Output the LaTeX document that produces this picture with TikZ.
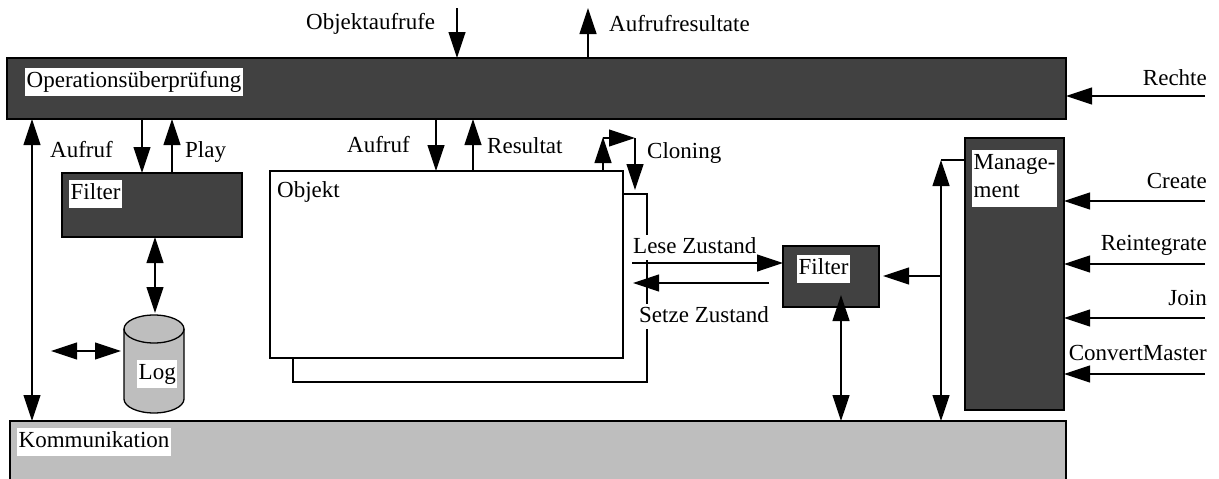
\documentclass[tikz,border=0pt]{standalone}
\usepackage{fontspec}
\setmainfont{Liberation Serif}
\usetikzlibrary{arrows.meta}
\definecolor{darkfill}{HTML}{414141}
\definecolor{lightfill}{HTML}{BEBEBE}
\begin{document}
\begin{tikzpicture}[x=1pt,y=-1pt,
  every node/.style={font=\fontsize{23}{28}\selectfont},
  box/.style={draw=black,line width=1.3pt,inner sep=0pt,outer sep=0pt,anchor=north west},
  darkbox/.style={box,fill=darkfill},
  lightbox/.style={box,fill=lightfill},
  whitebox/.style={box,fill=white},
  tag/.style={fill=white,inner xsep=1.5pt,inner ysep=3.5pt,text height=16pt,text depth=5pt,anchor=north west},
  lbl/.style={inner sep=0pt,anchor=base west},
  rlbl/.style={inner sep=0pt,anchor=base east},
  wlbl/.style={fill=white,inner xsep=1pt,inner ysep=2pt,text height=16pt,text depth=5pt,anchor=base west},
  head/.tip={Triangle[length=26pt,width=17pt]},
  arr/.style={line width=1.2pt,-head},
  darr/.style={line width=1.2pt,head-head},
  conn/.style={line width=1.2pt}]
\useasboundingbox (0,0) rectangle (1219,479);
\clip (0,0) rectangle (1219,479);

% x positions of the vertical connectors
\foreach \n/\x in {xcomm/32,xcall/142,xplay/172,xlog/155,xobjin/457,xobjout/588,
  xaufr/436,xres/473,xclup/603,xcldn/635,xfilt/841,xmgmt/941}
  \coordinate (\n) at (\x,0);
% y positions of the horizontal connectors
\foreach \n/\y in {yrechte/96,ycreate/201,yreint/264,yjoin/318,yconv/374,
  ylese/263,ysetze/283,ymgmt/160,yfilt/276,ylog/351,yclone/138}
  \coordinate (\n) at (0,\y);

% main layers
\node[darkbox,minimum width=1059,minimum height=61] (ops) at (7,58) {};
\node[lightbox,minimum width=1056,minimum height=80] (komm) at (10,421) {};
\node[tag] at (25,68) {Operationsüberprüfung};
\node[tag] at (17,428) {Kommunikation};

% left filter
\node[darkbox,minimum width=180,minimum height=64] (filtL) at (62,173) {};
\node[tag] at (69,180) {Filter};

% log store (cylinder)
\path[draw=black,line width=1.3pt,fill=lightfill]
  (124,329) -- (124,399) arc[start angle=180,end angle=0,x radius=30,y radius=14]
  -- (184,329) arc[start angle=0,end angle=-180,x radius=30,y radius=14] -- cycle;
\draw[line width=1.3pt] (124,329) arc[start angle=180,end angle=0,x radius=30,y radius=14];
\coordinate (logtop) at (155,313);
\coordinate (logleft) at (121,351);
\coordinate (logfar) at (51,351);
\node[tag] at (137,360) {Log};

% object and its clone behind it
\node[whitebox,minimum width=354,minimum height=188] (objback) at (293,194) {};
\node[whitebox,minimum width=353,minimum height=187] (obj) at (270,171) {};
\node[lbl] at (277,197) {Objekt};

% right filter and management
\node[darkbox,minimum width=96,minimum height=61] (filtR) at (783,246) {};
\node[tag] at (797,255) {Filter};
\node[darkbox,minimum width=99,minimum height=272] (mgmt) at (965,138) {};
\node[tag,align=left,text width=82pt,text depth=34pt] at (972,150) {Manage-\\ment};

% incoming and outgoing calls at the top
\coordinate (objin) at (457,8);
\coordinate (objout) at (588,8);
\draw[arr] (objin) -- (ops.north -| xobjin);
\draw[arr] (ops.north -| xobjout) -- (objout);
\node[lbl] at (306,30) {Objektaufrufe};
\node[lbl] at (609,31) {Aufrufresultate};

% management inputs on the right
\foreach \y/\t/\b in {yrechte/Rechte/85,ycreate/Create/188,yreint/Reintegrate/250,
  yjoin/Join/305,yconv/ConvertMaster/360}{
  \coordinate (in\y) at (1205,0);
  \node[rlbl] at (1207,\b) {\t};
}
\draw[arr] (inyrechte |- yrechte) -- (ops.east |- yrechte);
\draw[arr] (inycreate |- ycreate) -- (mgmt.east |- ycreate);
\draw[arr] (inyreint |- yreint) -- (mgmt.east |- yreint);
\draw[arr] (inyjoin |- yjoin) -- (mgmt.east |- yjoin);
\draw[arr] (inyconv |- yconv) -- (mgmt.east |- yconv);

% left side
\draw[darr] (ops.south -| xcomm) -- (komm.north -| xcomm);
\node[lbl] at (50,157) {Aufruf};
\draw[arr] (ops.south -| xcall) -- (filtL.north -| xcall);
\draw[arr] (filtL.north -| xplay) -- (ops.south -| xplay);
\node[lbl] at (185,157) {Play};
\draw[darr] (filtL.south -| xlog) -- (logtop);
\draw[darr] (logfar) -- (logleft);

% object calls
\draw[arr] (ops.south -| xaufr) -- (obj.north -| xaufr);
\node[lbl] at (347,152) {Aufruf};
\draw[arr] (obj.north -| xres) -- (ops.south -| xres);
\node[lbl] at (487,153) {Resultat};

% cloning
\coordinate (clupper) at (603,137);
\coordinate (clcorner) at (635,138);
\draw[arr] (obj.north -| xclup) -- (clupper);
\draw[arr] (xclup |- yclone) -- (clcorner);
\draw[arr] (clcorner) -- ([yshift=4pt]objback.north -| xcldn);
\node[lbl] at (647,158) {Cloning};

% state transfer between object and filter
\node[wlbl] at (632,253) {Lese Zustand};
\node[wlbl] at (638,322) {Setze Zustand};
\coordinate (leseA) at (632,0);
\coordinate (setzeA) at (633,0);
\coordinate (setzeB) at (769,0);
\draw[arr] (leseA |- ylese) -- (filtR.west |- ylese);
\draw[arr] (setzeB |- ysetze) -- (setzeA |- ysetze);

% management control paths
\draw[darr] (xmgmt |- ymgmt) -- (komm.north -| xmgmt);
\draw[conn] (xmgmt |- ymgmt) -- (mgmt.west |- ymgmt);
\draw[arr] (xmgmt |- yfilt) -- ([xshift=4pt]filtR.east |- yfilt);
\draw[darr] ([yshift=12pt]filtR.south -| xfilt) -- (komm.north -| xfilt);
\end{tikzpicture}
\end{document}
